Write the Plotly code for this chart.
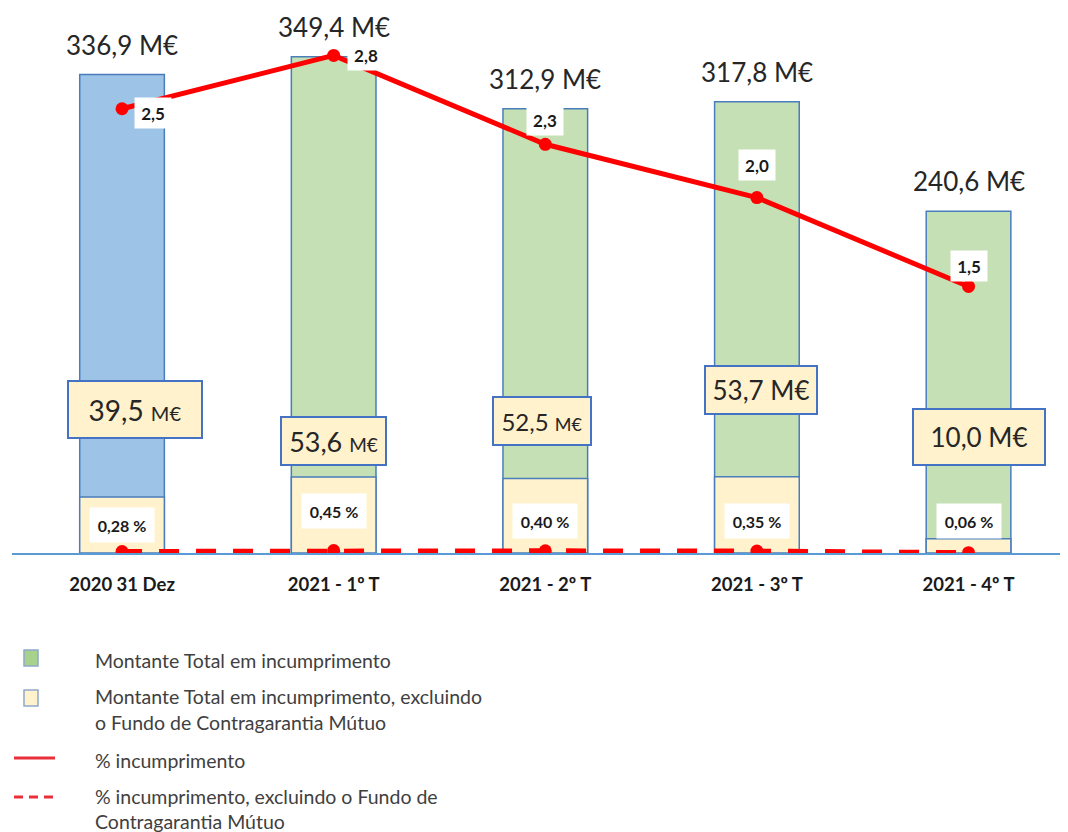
import plotly.graph_objects as go

# ---------------- data ----------------
categories = ["2020 31 Dez", "2021 - 1º T", "2021 - 2º T", "2021 - 3º T", "2021 - 4º T"]
total_default = [336.9, 349.4, 312.9, 317.8, 240.6]      # M€, Montante Total em incumprimento
excl_fund_default = [39.5, 53.6, 52.5, 53.7, 10.0]       # M€, excluindo o Fundo de Contragarantia Mútuo
pct_default = [2.5, 2.8, 2.3, 2.0, 1.5]                  # % incumprimento
pct_excl_fund = [0.28, 0.45, 0.40, 0.35, 0.06]           # % incumprimento, excluindo o FCGM

legend_names = [
    "Montante Total em incumprimento",
    "Montante Total em incumprimento, excluindo o Fundo de Contragarantia Mútuo",
    "% incumprimento",
    "% incumprimento, excluindo o Fundo de Contragarantia Mútuo",
]

# ---------------- styling / layout helpers ----------------
PAGE_OFF = 8                      # default body margin of the html page
W, H = 1068 - PAGE_OFF, 832 - PAGE_OFF
SCR_LEFT, SCR_RIGHT, SCR_TOP, SCR_BASE = 12, 1068, 10, 553   # plot area on screen
ML = SCR_LEFT - PAGE_OFF
MR = PAGE_OFF + W - SCR_RIGHT
MT = SCR_TOP - PAGE_OFF
MB = PAGE_OFF + H - SCR_BASE
PLOT_H = H - MT - MB
PLOT_W = W - ML - MR
FONT = "Lato"

BLUE_FILL = "#9DC3E6"
GREEN_FILL = "#C5E0B4"
YELLOW_FILL = "#FFF2CC"
OUTLINE = "#4A7EBB"
RED = "#FF0000"

bar_colors = [BLUE_FILL] + [GREEN_FILL] * (len(categories) - 1)


def fmt(v, d=1):
    return f"{v:.{d}f}".replace(".", ",")


def px_x(x):
    return (x - SCR_LEFT) / PLOT_W


def px_y(y):
    return (SCR_BASE - y) / PLOT_H


fig = go.Figure()

fig.add_trace(go.Bar(
    x=categories, y=total_default, name=legend_names[0], width=0.40,
    marker=dict(color=bar_colors, line=dict(color=OUTLINE, width=1.5)),
    yaxis="y", hoverinfo="x+y",
))
fig.add_trace(go.Bar(
    x=categories, y=excl_fund_default, name=legend_names[1], width=0.40,
    marker=dict(color=YELLOW_FILL, line=dict(color=OUTLINE, width=1.5)),
    yaxis="y", hoverinfo="x+y",
))
fig.add_trace(go.Scatter(
    x=categories, y=pct_default, name=legend_names[2], yaxis="y2",
    mode="lines+markers", line=dict(color=RED, width=5),
    marker=dict(color=RED, size=13),
))
fig.add_trace(go.Scatter(
    x=categories, y=pct_excl_fund, name=legend_names[3], yaxis="y3",
    mode="lines+markers", line=dict(color=RED, width=5, dash="20px,17px"),
    marker=dict(color=RED, size=13),
))

annotations = []

# totals above bars
for c, v in zip(categories, total_default):
    annotations.append(dict(
        x=c, y=v, xref="x", yref="y", yanchor="bottom", yshift=12,
        text=f"{fmt(v)} M€", showarrow=False,
        font=dict(family=FONT, size=26, color="#262626"),
    ))

# boxed labels for amount excluding the fund
box_xshift = [13, 0, -3, 4, 10]
box_yshift = [87, 36, 57, 87, 102]
box_w = [130, 101, 94, 108, 128]
box_h = [53, 44, 44, 44, 52]
num_size = [28, 27, 24, 26, 26]
unit_size = [20, 19, 18, 26, 26]
for i, (c, v) in enumerate(zip(categories, excl_fund_default)):
    txt = (f"<span style='font-size:{num_size[i]}px'>{fmt(v)} </span>"
           f"<span style='font-size:{unit_size[i]}px'>M€</span>")
    annotations.append(dict(
        x=c, y=v, xref="x", yref="y", xshift=box_xshift[i], yshift=box_yshift[i],
        text=txt, showarrow=False, width=box_w[i], height=box_h[i],
        bgcolor=YELLOW_FILL, bordercolor="#4472C4", borderwidth=2,
        font=dict(family=FONT, size=26, color="#262626"),
    ))

# percentage labels (excluding fund)
pct_yshift = [26, 40, 30, 30, 32]
for i, (c, v) in enumerate(zip(categories, pct_excl_fund)):
    annotations.append(dict(
        x=c, y=v, xref="x", yref="y3", yshift=pct_yshift[i],
        text=f"<b>{fmt(v, 2)} %</b>", showarrow=False, width=62, height=32,
        bgcolor="white", font=dict(family=FONT, size=16, color="#1a1a1a"),
    ))

# line labels
line_xshift = [31, 32, 0, 0, 0]
line_yshift = [-4, 0, 24, 33, 20]
for i, (c, v) in enumerate(zip(categories, pct_default)):
    annotations.append(dict(
        x=c, y=v, xref="x", yref="y2", xshift=line_xshift[i], yshift=line_yshift[i],
        text=f"<b>{fmt(v)}</b>", showarrow=False, width=34, height=28,
        bgcolor="white", font=dict(family=FONT, size=17, color="#1a1a1a"),
    ))

# ---------------- custom legend ----------------
LEG_COLOR = "#404040"
legend_lines = [
    ("Montante Total em incumprimento", 660),
    ("Montante Total em incumprimento, excluindo", 696),
    ("o Fundo de Contragarantia Mútuo", 723),
    ("% incumprimento", 760),
    ("% incumprimento, excluindo o Fundo de", 796),
    ("Contragarantia Mútuo", 821),
]
for t, yy in legend_lines:
    annotations.append(dict(
        x=px_x(93), y=px_y(yy), xref="paper", yref="paper", xanchor="left",
        yanchor="middle", text=t, showarrow=False,
        font=dict(family=FONT, size=19.5, color=LEG_COLOR),
    ))

shapes = [
    dict(type="rect", xref="paper", yref="paper", x0=px_x(24), x1=px_x(38),
         y0=px_y(666), y1=px_y(650), fillcolor="#A9D18E",
         line=dict(color="#8FA9C8", width=1.5)),
    dict(type="rect", xref="paper", yref="paper", x0=px_x(24), x1=px_x(38),
         y0=px_y(706), y1=px_y(690), fillcolor=YELLOW_FILL,
         line=dict(color="#8FA9C8", width=1.5)),
    dict(type="line", xref="paper", yref="paper", x0=px_x(14), x1=px_x(55),
         y0=px_y(758), y1=px_y(758), line=dict(color="#E8303A", width=3)),
    dict(type="line", xref="paper", yref="paper", x0=px_x(14), x1=px_x(55),
         y0=px_y(797), y1=px_y(797), line=dict(color="#E8303A", width=3, dash="9px,6px")),
]

fig.update_layout(
    width=W, height=H,
    margin=dict(l=ML, r=MR, t=MT, b=MB, autoexpand=False),
    paper_bgcolor="white", plot_bgcolor="white",
    barmode="overlay", showlegend=False,
    font=dict(family=FONT),
    xaxis=dict(
        type="category", range=[-0.52, 4.47], showgrid=False, zeroline=False,
        showline=True, linecolor="#5B9BD5", linewidth=1.5,
        ticks="outside", ticklen=14, tickcolor="rgba(0,0,0,0)",
        tickfont=dict(family=FONT, size=18.5, color="#1a1a1a", weight="bold"),
    ),
    yaxis=dict(range=[0, PLOT_H / 1.42], visible=False, showgrid=False, zeroline=False),
    yaxis2=dict(range=[0, PLOT_H / 177.7], overlaying="y", visible=False,
                showgrid=False, zeroline=False),
    yaxis3=dict(range=[0, 100], overlaying="y", visible=False,
                showgrid=False, zeroline=False),
    annotations=annotations,
    shapes=shapes,
)

fig.write_html("out.html")
